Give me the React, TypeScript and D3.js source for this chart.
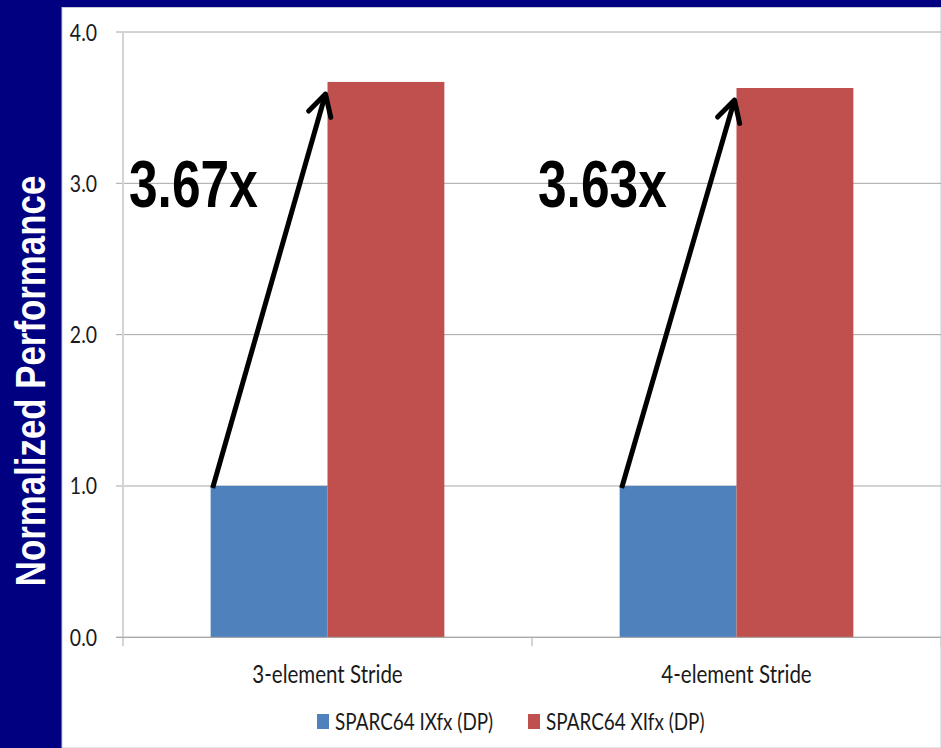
import React from 'react'
import * as d3 from 'd3'

const categories = ['3-element Stride', '4-element Stride']
const seriesNames = ['SPARC64 IXfx (DP)', 'SPARC64 XIfx (DP)']
const ixfxValues = [1.0, 1.0]
const xifxValues = [3.67, 3.63]
const speedupLabels = ['3.67x', '3.63x']
const yTicks = [0, 1, 2, 3, 4]

const W = 941
const H = 748
const NAVY = '#000080'
const colors = ['#4F81BD', '#C0504D']
const bodyFont = 'Lato, "Open Sans", sans-serif'
const boldFont = '"Liberation Sans", Arial, sans-serif'

export default function App() {
  const plot = { left: 123, right: 941, top: 32, bottom: 637.3 }

  const x0 = d3.scaleBand<string>()
    .domain(categories)
    .range([plot.left, plot.right])
    .paddingInner(0)
    .paddingOuter(0)

  const x1 = d3.scaleBand<string>()
    .domain(seriesNames)
    .range([0, x0.bandwidth()])
    .paddingInner(0)
    .paddingOuter(0.75)

  const y = d3.scaleLinear().domain([0, 4]).range([plot.bottom, plot.top])

  const rows = categories.map((c, i) => ({
    category: c,
    values: [ixfxValues[i], xifxValues[i]],
    label: speedupLabels[i]
  }))

  return (
    <div style={{ position: 'fixed', left: 0, top: 0 }}>
      <svg width={W} height={H} style={{ display: 'block' }}>
        {/* slide background */}
        <rect x={0} y={0} width={W} height={H} fill={NAVY} />
        <rect x={62} y={7.5} width={W - 62} height={H - 7.5} fill="#ffffff" stroke="#c8c8d8" strokeWidth={1} />

        {/* y axis title */}
        <text
          transform={`translate(45,381) rotate(-90) scale(0.83,1)`}
          textAnchor="middle"
          fontFamily={boldFont}
          fontWeight="bold"
          fontSize={42}
          fill="#ffffff"
        >Normalized Performance</text>

        {/* gridlines + tick labels */}
        {yTicks.map(t => (
          <g key={t}>
            <line x1={plot.left - 7} x2={plot.right} y1={y(t)} y2={y(t)} stroke="#a6a6a6" strokeWidth={1} />
            <text
              transform={`translate(97,${y(t) + 8.5}) scale(0.81,1)`}
              textAnchor="end"
              fontFamily={bodyFont}
              fontSize={24}
              fill="#1a1a1a"
            >{t.toFixed(1)}</text>
          </g>
        ))}

        {/* y axis line */}
        <line x1={plot.left} x2={plot.left} y1={plot.top} y2={plot.bottom + 9} stroke="#d4d4d4" strokeWidth={2} />

        {/* category ticks */}
        {categories.map(c => (
          <line key={c} x1={(x0(c) as number) + x0.bandwidth()} x2={(x0(c) as number) + x0.bandwidth()}
            y1={plot.bottom} y2={plot.bottom + 9} stroke="#d4d4d4" strokeWidth={2} />
        ))}

        {/* bars */}
        {rows.map(r => (
          <g key={r.category} transform={`translate(${x0(r.category)},0)`}>
            {r.values.map((v, j) => (
              <rect key={j}
                x={x1(seriesNames[j])}
                y={y(v)}
                width={x1.bandwidth()}
                height={y(0) - y(v)}
                fill={colors[j]} />
            ))}
          </g>
        ))}

        {/* x axis baseline */}
        <line x1={plot.left - 7} x2={plot.right} y1={plot.bottom} y2={plot.bottom} stroke="#a6a6a6" strokeWidth={1} />

        {/* category labels */}
        {categories.map(c => (
          <text key={c}
            transform={`translate(${(x0(c) as number) + x0.bandwidth() / 2},683) scale(0.79,1)`}
            textAnchor="middle"
            fontFamily={bodyFont}
            fontSize={26}
            fill="#1a1a1a"
          >{c}</text>
        ))}

        {/* annotations */}
        {rows.map(r => {
          const bx = x0(r.category) as number
          const sx = bx + (x1(seriesNames[0]) as number) + 2
          const sy = y(r.values[0]) + 2
          const ex = bx + (x1(seriesNames[1]) as number) - 2
          const ey = y(r.values[1]) + 12
          const ang = Math.atan2(ey - sy, ex - sx)
          const hl = 24
          const spread = 0.5
          const w1 = [ex - hl * Math.cos(ang - spread), ey - hl * Math.sin(ang - spread)]
          const w2 = [ex - hl * Math.cos(ang + spread), ey - hl * Math.sin(ang + spread)]
          return (
            <g key={r.category}>
              <line x1={sx} y1={sy} x2={ex} y2={ey} stroke="#000" strokeWidth={5} />
              <polyline points={`${w1[0]},${w1[1]} ${ex},${ey} ${w2[0]},${w2[1]}`}
                fill="none" stroke="#000" strokeWidth={5} strokeLinejoin="round" strokeLinecap="round" />
              <text
                transform={`translate(${bx + 6},${y(3) + 24}) scale(0.78,1)`}
                fontFamily={boldFont}
                fontWeight="bold"
                fontSize={66}
                fill="#000"
              >{r.label}</text>
            </g>
          )
        })}

        {/* legend */}
        {seriesNames.map((s, i) => {
          const lx = [317, 528][i]
          return (
            <g key={s} transform={`translate(${lx},714)`}>
              <rect x={0} y={0} width={12} height={15} fill={colors[i]} />
              <text transform={`translate(18,15.5) scale(0.84,1)`} fontFamily={bodyFont} fontSize={22.5} fill="#1a1a1a">{s}</text>
            </g>
          )
        })}
      </svg>
    </div>
  )
}
